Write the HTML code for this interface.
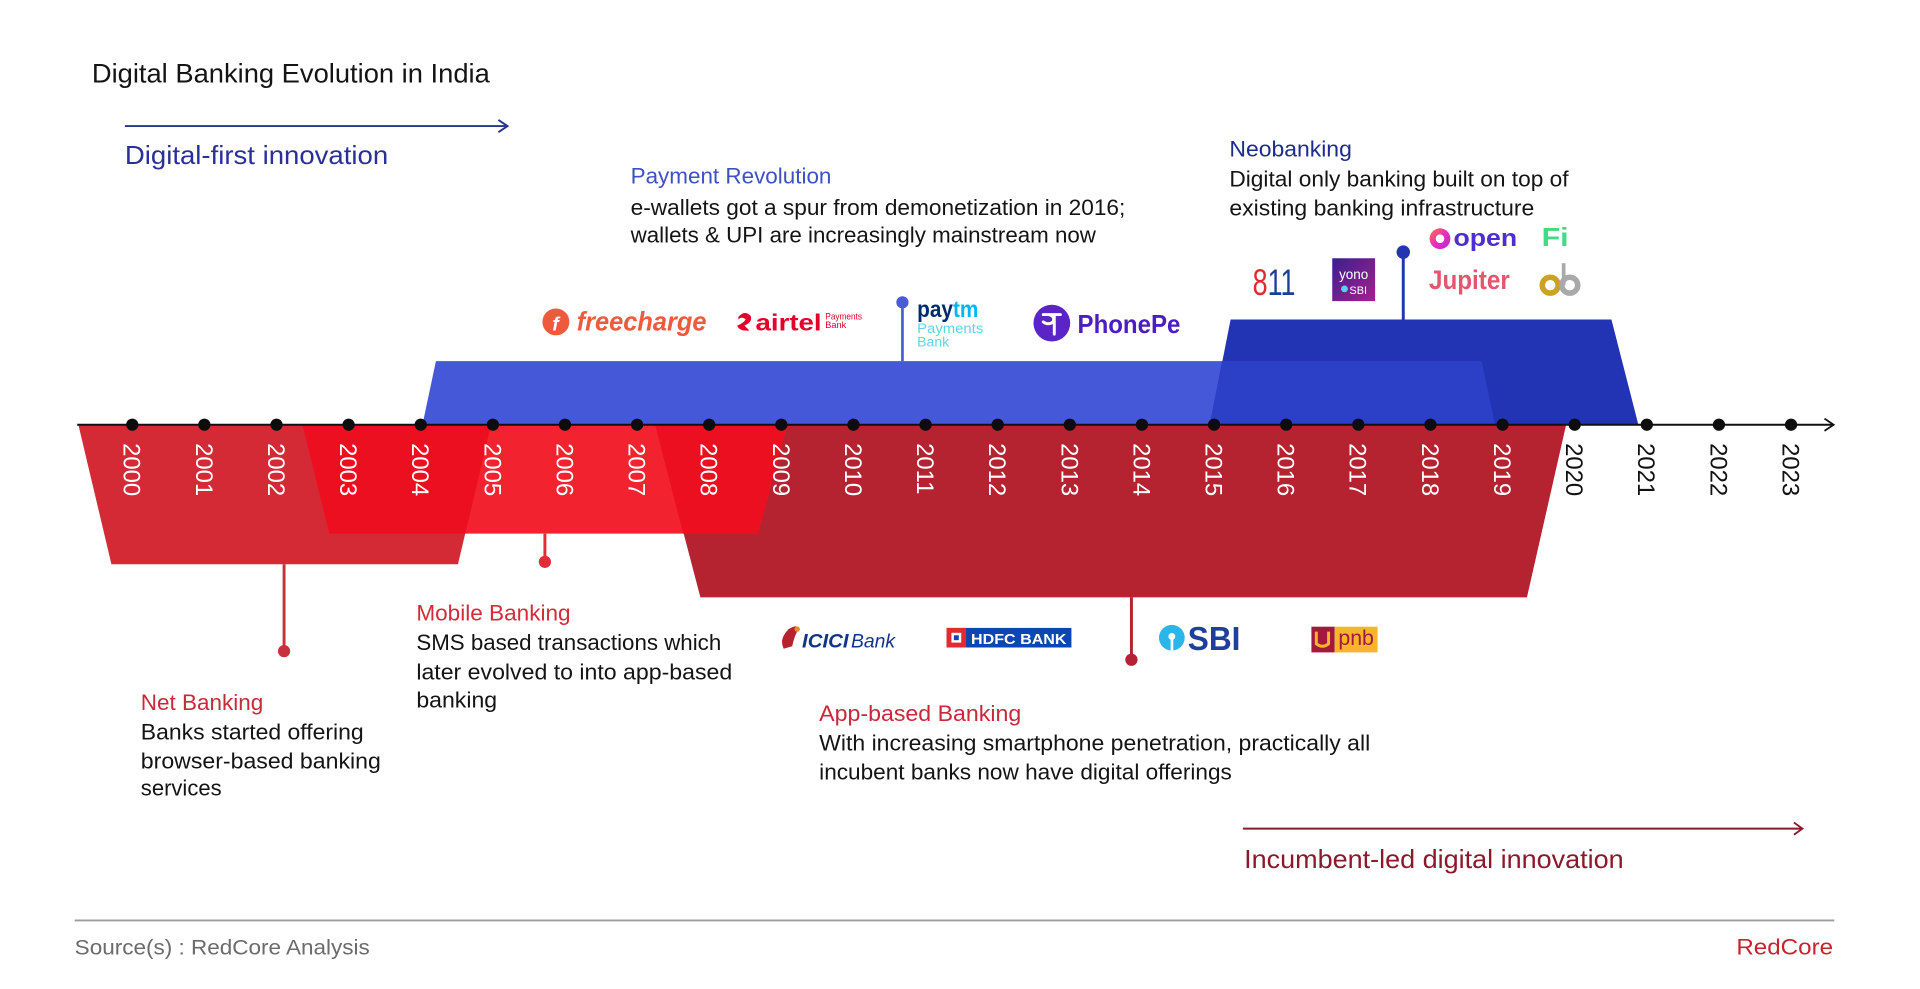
<!DOCTYPE html>
<html>
<head>
<meta charset="utf-8">
<style>
  html,body{margin:0;padding:0;background:#fff;}
  svg{display:block;}
  text{font-family:"Liberation Sans","DejaVu Sans",sans-serif;}
</style>
</head>
<body>
<svg width="1920" height="989" viewBox="0 0 1568 808" preserveAspectRatio="none" xmlns="http://www.w3.org/2000/svg">
  <defs>
    <linearGradient id="yono" x1="0" y1="0" x2="1" y2="1">
      <stop offset="0" stop-color="#3a1f8f"/>
      <stop offset="1" stop-color="#a5208c"/>
    </linearGradient>
    <linearGradient id="openg" x1="0" y1="0" x2="1" y2="1">
      <stop offset="0" stop-color="#ff7a2f"/>
      <stop offset="0.5" stop-color="#e62ec0"/>
      <stop offset="1" stop-color="#b52bd8"/>
    </linearGradient>
  </defs>
  <rect x="0" y="0" width="1568" height="808" fill="#ffffff"/>

  <!-- Title -->
  <text x="75" y="67.5" font-size="22" fill="#141414" textLength="325" lengthAdjust="spacingAndGlyphs">Digital Banking Evolution in India</text>

  <!-- Digital-first arrow -->
  <line x1="102" y1="103" x2="414" y2="103" stroke="#2b3392" stroke-width="1.6"/>
  <polyline points="407,98 414.5,103 407,108" fill="none" stroke="#2b3392" stroke-width="1.6"/>
  <text x="102" y="134" font-size="21" fill="#2b2f9a" textLength="215" lengthAdjust="spacingAndGlyphs">Digital-first innovation</text>

  <!-- Payment Revolution text -->
  <text x="515" y="150" font-size="18.5" fill="#3d50c6" textLength="164" lengthAdjust="spacingAndGlyphs">Payment Revolution</text>
  <text x="515" y="175.5" font-size="18.5" fill="#141414" textLength="404" lengthAdjust="spacingAndGlyphs">e-wallets got a spur from demonetization in 2016;</text>
  <text x="515" y="198" font-size="18.5" fill="#141414" textLength="380" lengthAdjust="spacingAndGlyphs">wallets &amp; UPI are increasingly mainstream now</text>

  <!-- Neobanking text -->
  <text x="1004" y="128" font-size="18.5" fill="#1e2b8e" textLength="100" lengthAdjust="spacingAndGlyphs">Neobanking</text>
  <text x="1004" y="152.5" font-size="18.5" fill="#141414" textLength="277" lengthAdjust="spacingAndGlyphs">Digital only banking built on top of</text>
  <text x="1004" y="176" font-size="18.5" fill="#141414" textLength="249" lengthAdjust="spacingAndGlyphs">existing banking infrastructure</text>

  <!-- Blue shapes -->
  <polygon points="356,295 1210,295 1221,347 345,347" fill="#4558d8"/>
  <polygon points="1005,261 1316,261 1338,347 988,347" fill="#2233b3"/>
  <polygon points="998,295 1210,295 1221,347 988,347" fill="#2b3fc7"/>

  <!-- Blue poles -->
  <line x1="737" y1="247" x2="737" y2="295" stroke="#4a5bd6" stroke-width="2.2"/>
  <circle cx="737" cy="247" r="5" fill="#4a5bd6"/>
  <line x1="1146" y1="206" x2="1146" y2="261" stroke="#2335b0" stroke-width="2.4"/>
  <circle cx="1146" cy="206" r="5.5" fill="#2335b0"/>

  <!-- Red shapes -->
  <polygon points="64,347 401,347 374,461 91,461" fill="#d42a36"/>
  <polygon points="535,347 1279,347 1247,488 572,488" fill="#b52330"/>
  <polygon points="247,347 643,347 619,436 269,436" fill="#f2232f"/>
  <polygon points="247,347 401,347 380,436 269,436" fill="#ec0f1f"/>
  <polygon points="535,347 643,347 619,436 558,436" fill="#ec0f1f"/>

  <!-- Red poles -->
  <line x1="232" y1="461" x2="232" y2="532" stroke="#c8323e" stroke-width="2.4"/>
  <circle cx="232" cy="532" r="5" fill="#c8323e"/>
  <line x1="445" y1="436" x2="445" y2="459" stroke="#e8293a" stroke-width="2.4"/>
  <circle cx="445" cy="459" r="5" fill="#e8293a"/>
  <line x1="924" y1="488" x2="924" y2="539" stroke="#b42335" stroke-width="2.4"/>
  <circle cx="924" cy="539" r="5" fill="#b42335"/>

  <!-- Axis -->
  <line x1="63" y1="347" x2="1497" y2="347" stroke="#111" stroke-width="1.6"/>
  <polyline points="1490,342 1497.5,347 1490,352" fill="none" stroke="#111" stroke-width="1.4"/>

  <!-- Axis dots -->
  <g fill="#0d0d0d">
    <circle cx="108" cy="347" r="5"/><circle cx="166.9" cy="347" r="5"/><circle cx="225.8" cy="347" r="5"/><circle cx="284.7" cy="347" r="5"/>
    <circle cx="343.6" cy="347" r="5"/><circle cx="402.5" cy="347" r="5"/><circle cx="461.4" cy="347" r="5"/><circle cx="520.3" cy="347" r="5"/>
    <circle cx="579.2" cy="347" r="5"/><circle cx="638.1" cy="347" r="5"/><circle cx="697" cy="347" r="5"/><circle cx="755.9" cy="347" r="5"/>
    <circle cx="814.8" cy="347" r="5"/><circle cx="873.7" cy="347" r="5"/><circle cx="932.6" cy="347" r="5"/><circle cx="991.5" cy="347" r="5"/>
    <circle cx="1050.4" cy="347" r="5"/><circle cx="1109.3" cy="347" r="5"/><circle cx="1168.2" cy="347" r="5"/><circle cx="1227.1" cy="347" r="5"/>
    <circle cx="1286" cy="347" r="5"/><circle cx="1344.9" cy="347" r="5"/><circle cx="1403.8" cy="347" r="5"/><circle cx="1462.7" cy="347" r="5"/>
  </g>

  <!-- Year labels -->
  <g font-size="19.5" fill="#ffffff">
    <text transform="translate(108,362) rotate(90)" y="7">2000</text>
    <text transform="translate(166.9,362) rotate(90)" y="7">2001</text>
    <text transform="translate(225.8,362) rotate(90)" y="7">2002</text>
    <text transform="translate(284.7,362) rotate(90)" y="7">2003</text>
    <text transform="translate(343.6,362) rotate(90)" y="7">2004</text>
    <text transform="translate(402.5,362) rotate(90)" y="7">2005</text>
    <text transform="translate(461.4,362) rotate(90)" y="7">2006</text>
    <text transform="translate(520.3,362) rotate(90)" y="7">2007</text>
    <text transform="translate(579.2,362) rotate(90)" y="7">2008</text>
    <text transform="translate(638.1,362) rotate(90)" y="7">2009</text>
    <text transform="translate(697,362) rotate(90)" y="7">2010</text>
    <text transform="translate(755.9,362) rotate(90)" y="7">2011</text>
    <text transform="translate(814.8,362) rotate(90)" y="7">2012</text>
    <text transform="translate(873.7,362) rotate(90)" y="7">2013</text>
    <text transform="translate(932.6,362) rotate(90)" y="7">2014</text>
    <text transform="translate(991.5,362) rotate(90)" y="7">2015</text>
    <text transform="translate(1050.4,362) rotate(90)" y="7">2016</text>
    <text transform="translate(1109.3,362) rotate(90)" y="7">2017</text>
    <text transform="translate(1168.2,362) rotate(90)" y="7">2018</text>
    <text transform="translate(1227.1,362) rotate(90)" y="7">2019</text>
  </g>
  <g font-size="19.5" fill="#111111">
    <text transform="translate(1286,362) rotate(90)" y="7">2020</text>
    <text transform="translate(1344.9,362) rotate(90)" y="7">2021</text>
    <text transform="translate(1403.8,362) rotate(90)" y="7">2022</text>
    <text transform="translate(1462.7,362) rotate(90)" y="7">2023</text>
  </g>

  <!-- Payment logos -->
  <circle cx="454" cy="263" r="11" fill="#ee5b3c"/>
  <text x="451" y="270" font-size="16" font-weight="bold" font-style="italic" fill="#fff">f</text>
  <text x="471" y="270" font-size="22" font-weight="bold" font-style="italic" fill="#ee5b3c" textLength="106" lengthAdjust="spacingAndGlyphs">freecharge</text>

  <path d="M603,259 Q608,253 613,258 Q615,263 608,266 L612,270 Q604,271 602,266 Q607,264 609,261 Q606,258 603,261 Z" fill="#e4002b"/>
  <text x="617" y="270" font-size="19" font-weight="bold" fill="#e4002b" textLength="54" lengthAdjust="spacingAndGlyphs">airtel</text>
  <text x="674" y="261" font-size="7.5" fill="#e4002b" textLength="30" lengthAdjust="spacingAndGlyphs">Payments</text>
  <text x="674" y="268" font-size="7.5" fill="#e4002b">Bank</text>

  <text x="749" y="259" font-size="19" font-weight="bold" textLength="50" lengthAdjust="spacingAndGlyphs"><tspan fill="#002a6e">pay</tspan><tspan fill="#00b6ef">tm</tspan></text>
  <text x="749" y="272" font-size="11.5" fill="#5fd4e6" textLength="54" lengthAdjust="spacingAndGlyphs">Payments</text>
  <text x="749" y="283" font-size="11.5" fill="#5fd4e6">Bank</text>

  <circle cx="859" cy="264" r="15" fill="#5a24c9"/>
  <path d="M852,257 L866,257 M856,257 Q862,258 860,263 Q856,266 852,263 M861,257 L861,273" fill="none" stroke="#fff" stroke-width="2.4" stroke-linecap="round"/>
  <text x="880" y="272" font-size="21" font-weight="bold" fill="#4a1ec2" textLength="84" lengthAdjust="spacingAndGlyphs">PhonePe</text>

  <!-- Neobanking logos -->
  <text x="1023" y="241" font-size="30" textLength="35" lengthAdjust="spacingAndGlyphs"><tspan fill="#e12a2f">8</tspan><tspan fill="#1b3f95">11</tspan></text>
  <rect x="1088" y="211" width="35" height="35" fill="url(#yono)"/>
  <text x="1105.5" y="228" font-size="11" fill="#fff" text-anchor="middle">yono</text>
  <circle cx="1098" cy="236" r="2.8" fill="#5ad0f0"/>
  <text x="1102" y="240" font-size="9" fill="#fff">SBI</text>

  <circle cx="1176" cy="195" r="8.5" fill="url(#openg)"/>
  <circle cx="1176" cy="195" r="3.5" fill="#fff"/>
  <text x="1187" y="201" font-size="20" font-weight="bold" fill="#4c2fd0" textLength="52" lengthAdjust="spacingAndGlyphs">open</text>
  <text x="1259" y="201" font-size="21" font-weight="bold" fill="#3fdc86" textLength="22" lengthAdjust="spacingAndGlyphs">Fi</text>
  <text x="1167" y="236" font-size="22" font-weight="bold" fill="#e3566e" textLength="66" lengthAdjust="spacingAndGlyphs">Jupiter</text>
  <circle cx="1266" cy="233" r="6.5" fill="none" stroke="#c9a227" stroke-width="4.5"/>
  <circle cx="1282" cy="233" r="6.5" fill="none" stroke="#a9a9a9" stroke-width="4.5"/>
  <line x1="1277" y1="215" x2="1277" y2="233" stroke="#a9a9a9" stroke-width="3"/>

  <!-- Net Banking text -->
  <text x="115" y="580" font-size="18.5" fill="#c82b38" textLength="100" lengthAdjust="spacingAndGlyphs">Net Banking</text>
  <text x="115" y="604" font-size="18.5" fill="#141414" textLength="182" lengthAdjust="spacingAndGlyphs">Banks started offering</text>
  <text x="115" y="628" font-size="18.5" fill="#141414" textLength="196" lengthAdjust="spacingAndGlyphs">browser-based banking</text>
  <text x="115" y="650" font-size="18.5" fill="#141414" textLength="66" lengthAdjust="spacingAndGlyphs">services</text>

  <!-- Mobile Banking text -->
  <text x="340" y="507" font-size="18.5" fill="#d42a3a" textLength="126" lengthAdjust="spacingAndGlyphs">Mobile Banking</text>
  <text x="340" y="531" font-size="18.5" fill="#141414" textLength="249" lengthAdjust="spacingAndGlyphs">SMS based transactions which</text>
  <text x="340" y="555" font-size="18.5" fill="#141414" textLength="258" lengthAdjust="spacingAndGlyphs">later evolved to into app-based</text>
  <text x="340" y="578" font-size="18.5" fill="#141414" textLength="66" lengthAdjust="spacingAndGlyphs">banking</text>

  <!-- Bank logos -->
  <path d="M640,530 Q636,522 644,514 Q650,510 653,513 Q649,518 647,528 Z" fill="#b5232e"/>
  <circle cx="651" cy="514" r="2.2" fill="#f08a24"/>
  <text x="655" y="529" font-size="16" font-weight="bold" font-style="italic" fill="#11348a" textLength="38" lengthAdjust="spacingAndGlyphs">ICICI</text>
  <text x="695" y="529" font-size="16" font-style="italic" fill="#11348a" textLength="36" lengthAdjust="spacingAndGlyphs">Bank</text>

  <rect x="773" y="513" width="102" height="16" fill="#0d46b3"/>
  <rect x="773" y="513" width="16" height="16" fill="#e32a32"/>
  <rect x="777" y="517" width="8" height="8" fill="#fff"/>
  <rect x="779" y="519" width="4" height="4" fill="#0d46b3"/>
  <text x="793" y="526" font-size="12" font-weight="bold" fill="#fff" textLength="78" lengthAdjust="spacingAndGlyphs">HDFC BANK</text>

  <circle cx="957" cy="521" r="10.5" fill="#2bb5e8"/>
  <circle cx="957" cy="520" r="2.8" fill="#fff"/>
  <rect x="956" y="521" width="2.2" height="11" fill="#fff"/>
  <text x="970" y="531" font-size="27" font-weight="bold" fill="#1f3f9c" textLength="43" lengthAdjust="spacingAndGlyphs">SBI</text>

  <rect x="1071" y="512" width="19" height="21" fill="#a3193b"/>
  <path d="M1075,516 L1075,526 Q1080,530 1085,526 L1085,516" fill="none" stroke="#f7b52a" stroke-width="2.4"/>
  <rect x="1090" y="512" width="35" height="21" fill="#f7b52a"/>
  <text x="1093" y="527" font-size="17" fill="#a3193b" textLength="29" lengthAdjust="spacingAndGlyphs">pnb</text>

  <!-- App-based Banking text -->
  <text x="669" y="589" font-size="18.5" fill="#c8283a" textLength="165" lengthAdjust="spacingAndGlyphs">App-based Banking</text>
  <text x="669" y="613" font-size="18.5" fill="#141414" textLength="450" lengthAdjust="spacingAndGlyphs">With increasing smartphone penetration, practically all</text>
  <text x="669" y="637" font-size="18.5" fill="#141414" textLength="337" lengthAdjust="spacingAndGlyphs">incubent banks now have digital offerings</text>

  <!-- Incumbent arrow -->
  <line x1="1015" y1="677" x2="1471" y2="677" stroke="#8a1a2b" stroke-width="1.6"/>
  <polyline points="1465,672 1472,677 1465,682" fill="none" stroke="#8a1a2b" stroke-width="1.5"/>
  <text x="1016" y="709" font-size="21" fill="#8a1a2b" textLength="310" lengthAdjust="spacingAndGlyphs">Incumbent-led digital innovation</text>

  <!-- Footer -->
  <line x1="61" y1="752" x2="1498" y2="752" stroke="#9c9c9c" stroke-width="1.6"/>
  <text x="61" y="780" font-size="17" fill="#6b6b6b" textLength="241" lengthAdjust="spacingAndGlyphs">Source(s) : RedCore Analysis</text>
  <text x="1418" y="780" font-size="18" fill="#c4232f" textLength="79" lengthAdjust="spacingAndGlyphs">RedCore</text>
</svg>
</body>
</html>
